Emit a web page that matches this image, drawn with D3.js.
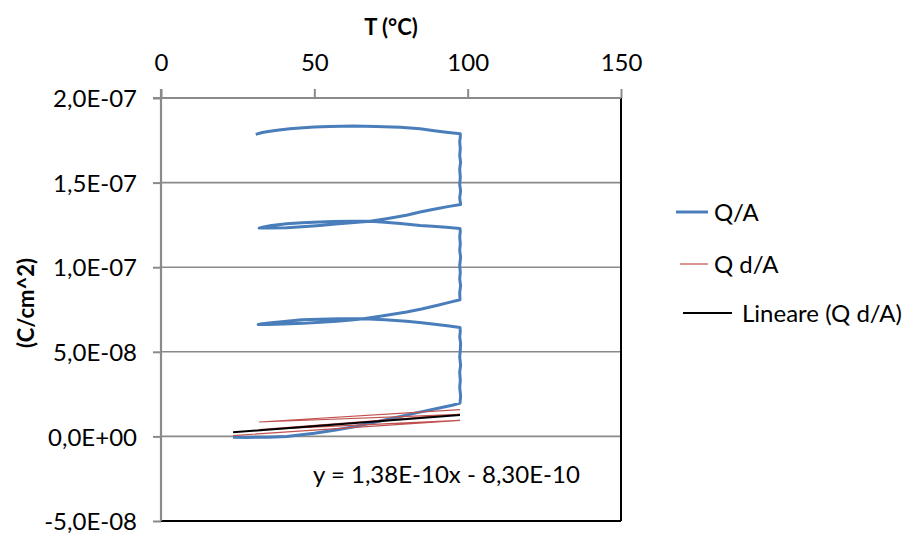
<!DOCTYPE html>
<html><head><meta charset="utf-8">
<script src="https://d3js.org/d3.v7.min.js"></script>
<style>
html,body{margin:0;padding:0;background:#fff;}
svg{display:block;}
text{font-family:Lato,"Open Sans",sans-serif;fill:#000;}
</style></head>
<body>
<svg id="chart" width="910" height="534"></svg>
<script>
// ---------- data ----------
const xTicks = [0, 50, 100, 150];
const yTicks = [-5e-8, 0, 5e-8, 1e-7, 1.5e-7, 2e-7];
const yTickLabels = ["-5,0E-08", "0,0E+00", "5,0E-08", "1,0E-07", "1,5E-07", "2,0E-07"];
const seriesNames = ["Q/A", "Q d/A", "Lineare (Q d/A)"];

// Q/A series: temperature (°C) and charge density (C/cm^2)
const qaT = [23.5,28,35,41,50,57,63,70,77,84,90,95,97.5,
  97.7,97.4,97.6,97.4,97.7,97.4,97.6,97.7,97.4,97.6,97.5,
  94,89.9,85,80.1,73,66,58,51.8,46,41,36,33,31.7,
  35,40,46.4,52,57.3,62,66,72,80.1,85,89.9,94,97.5,
  97.4,97.7,97.4,97.6,97.4,97.7,97.4,97.6,97.4,97.6,97.5,
  93,88.5,84.5,78,73,68.2,62,56,51.8,46,41,36,33.5,32,
  35,41,46,51.8,57,62,68.2,74,80,84.5,89,93.5,97.7,
  97.4,97.7,97.4,97.6,97.4,97.7,97.4,97.6,97.4,97.6,97.6,
  93,88.5,84.5,78,70,62.7,55,50,46.4,42,38.5,35.5,33,30.9];
const qaQ = [-0.05e-8,-0.06e-8,-0.05e-8,0.0,0.18e-8,0.38e-8,0.57e-8,0.85e-8,1.13e-8,1.42e-8,1.65e-8,1.84e-8,1.97e-8,
  2.4e-8,2.9e-8,3.3e-8,3.8e-8,4.2e-8,4.7e-8,5.1e-8,5.5e-8,5.9e-8,6.2e-8,6.44e-8,
  6.53e-8,6.62e-8,6.71e-8,6.81e-8,6.89e-8,6.96e-8,6.96e-8,6.93e-8,6.89e-8,6.81e-8,6.72e-8,6.66e-8,6.62e-8,
  6.62e-8,6.64e-8,6.68e-8,6.74e-8,6.81e-8,6.88e-8,6.96e-8,7.12e-8,7.35e-8,7.53e-8,7.74e-8,7.92e-8,8.08e-8,
  8.5e-8,8.9e-8,9.3e-8,9.7e-8,10.1e-8,10.6e-8,11.0e-8,11.4e-8,11.8e-8,12.1e-8,12.29e-8,
  12.36e-8,12.42e-8,12.47e-8,12.58e-8,12.65e-8,12.71e-8,12.72e-8,12.7e-8,12.67e-8,12.63e-8,12.57e-8,12.46e-8,12.38e-8,12.31e-8,
  12.31e-8,12.33e-8,12.39e-8,12.47e-8,12.55e-8,12.62e-8,12.71e-8,12.88e-8,13.07e-8,13.26e-8,13.43e-8,13.58e-8,13.71e-8,
  14.1e-8,14.5e-8,14.9e-8,15.3e-8,15.8e-8,16.2e-8,16.6e-8,17.0e-8,17.4e-8,17.7e-8,17.89e-8,
  17.98e-8,18.08e-8,18.18e-8,18.27e-8,18.32e-8,18.34e-8,18.31e-8,18.28e-8,18.24e-8,18.18e-8,18.11e-8,18.04e-8,17.96e-8,17.85e-8];

// Q d/A series
const qdT = [23.5, 97.5, 32, 97.5, 32, 97.5];
const qdQ = [0.05e-8, 0.95e-8, 0.4e-8, 1.3e-8, 0.85e-8, 1.58e-8];

// linear trend of Q d/A: y = slope*x + intercept
const trendSlope = 1.38e-10;
const trendIntercept = -8.30e-10;
const trendLabel = "y = 1,38E-10x - 8,30E-10";

// ---------- chart ----------
const svg = d3.select("#chart");
const L = 161, R = 621, T = 98, B = 521;
const x = d3.scaleLinear().domain([0, 150]).range([L, R]);
const y = d3.scaleLinear().domain([-5e-8, 2e-7]).range([B, T]);
const gray = "#8a8a8a";
const fs = "24px";

// gridlines
svg.append("g").selectAll("line").data(yTicks.filter(v => v > -5e-8 && v < 2e-7)).join("line")
  .attr("x1", L).attr("x2", R).attr("y1", d => y(d)).attr("y2", d => y(d))
  .attr("stroke", gray).attr("stroke-width", 1.6);

// plot border right & bottom (black)
svg.append("line").attr("x1", R).attr("x2", R).attr("y1", T).attr("y2", B).attr("stroke", "#000").attr("stroke-width", 2);
svg.append("line").attr("x1", L).attr("x2", R).attr("y1", B).attr("y2", B).attr("stroke", "#000").attr("stroke-width", 2);

// left axis
const yAxis = d3.axisLeft(y).tickValues(yTicks).tickSize(8).tickPadding(16)
  .tickFormat((d, i) => yTickLabels[i]);
const gy = svg.append("g").attr("transform", `translate(${L},0)`).call(yAxis);
gy.select(".domain").attr("stroke", gray).attr("stroke-width", 2.2).attr("d", `M0,${B}V${T - 9}`);
gy.selectAll(".tick line").attr("stroke", gray).attr("stroke-width", 2);
gy.selectAll(".tick text").style("font-size", fs).attr("dy", "0.36em");

// top axis
const xAxis = d3.axisTop(x).tickValues(xTicks).tickSize(9).tickPadding(18).tickFormat(d3.format("d"));
const gx = svg.append("g").attr("transform", `translate(0,${T})`).call(xAxis);
gx.select(".domain").attr("stroke", gray).attr("stroke-width", 2.2).attr("d", `M${L - 8},0H${R}`);
gx.selectAll(".tick line").attr("stroke", gray).attr("stroke-width", 2);
gx.selectAll(".tick text").style("font-size", fs);

// axis titles
svg.append("text").attr("x", 391).attr("y", 35).attr("text-anchor", "middle")
  .style("font-size", "22px").style("font-weight", "bold").text("T (°C)");
svg.append("text").attr("transform", "translate(34,303) rotate(-90)").attr("text-anchor", "middle")
  .style("font-size", "22px").style("font-weight", "bold").text("(C/cm^2)");

// series
const line = d3.line().x(d => x(d[0])).y(d => y(d[1]));
const qaData = qaT.map((t, i) => [t, qaQ[i]]);
const qdData = qdT.map((t, i) => [t, qdQ[i]]);
const tMin = d3.min(qdT), tMax = d3.max(qdT);
const trendData = [tMin, tMax].map(t => [t, trendSlope * t + trendIntercept]);

svg.append("path").datum(qaData).attr("d", line).attr("fill", "none")
  .attr("stroke", "#4A7EBB").attr("stroke-width", 3).attr("stroke-linejoin", "round");
svg.append("path").datum(qdData).attr("d", line).attr("fill", "none")
  .attr("stroke", "#C0504D").attr("stroke-width", 1.2);
svg.append("path").datum(trendData).attr("d", line).attr("fill", "none")
  .attr("stroke", "#000").attr("stroke-width", 2);

// trend equation
svg.append("text").attr("x", 313).attr("y", 483).style("font-size", fs).text(trendLabel);

// legend
const legColors = ["#4A7EBB", "#C0504D", "#000"];
const legWidths = [3, 1.2, 2];
const legY = [212, 264, 313];
const legX1 = [676, 680, 683];
const legX2 = [708, 708, 732];
const legTX = [714, 714, 742];
const lg = svg.append("g");
seriesNames.forEach((n, i) => {
  lg.append("line").attr("x1", legX1[i]).attr("x2", legX2[i]).attr("y1", legY[i]).attr("y2", legY[i])
    .attr("stroke", legColors[i]).attr("stroke-width", legWidths[i]);
  lg.append("text").attr("x", legTX[i]).attr("y", legY[i]).attr("dy", "0.36em")
    .style("font-size", fs).text(n);
});
</script>
</body></html>
